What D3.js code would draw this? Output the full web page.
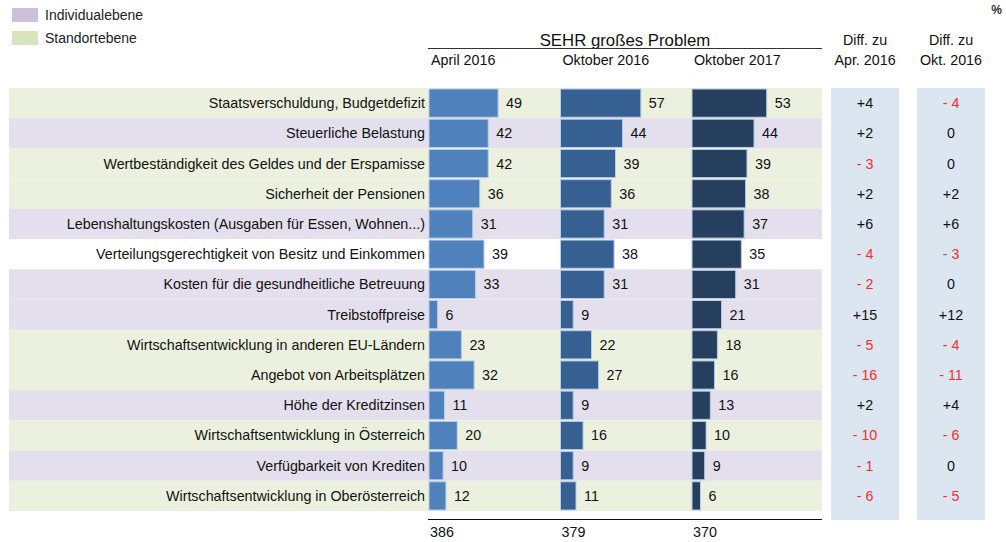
<!DOCTYPE html>
<html><head><meta charset="utf-8">
<script src="https://cdn.jsdelivr.net/npm/d3@7/dist/d3.min.js"></script>
<style>body{margin:0;background:#fff}svg{display:block;font-family:"Liberation Sans",Arial,sans-serif}</style>
</head><body><svg id="c" width="1006" height="542"></svg>
<script>
const categories = ["Staatsverschuldung, Budgetdefizit","Steuerliche Belastung","Wertbeständigkeit des Geldes und der Erspamisse","Sicherheit der Pensionen","Lebenshaltungskosten (Ausgaben für Essen, Wohnen...)","Verteilungsgerechtigkeit von Besitz und Einkommen","Kosten für die gesundheitliche Betreuung","Treibstoffpreise","Wirtschaftsentwicklung in anderen EU-Ländern","Angebot von Arbeitsplätzen","Höhe der Kreditzinsen","Wirtschaftsentwicklung in Österreich","Verfügbarkeit von Krediten","Wirtschaftsentwicklung in Oberösterreich"];
const rowType = ["S","I","S","S","I","","I","I","S","S","I","S","I","S"];
const seriesNames = ["April 2016","Oktober 2016","Oktober 2017"];
const april2016 = [49,42,42,36,31,39,33,6,23,32,11,20,10,12];
const oktober2016 = [57,44,39,36,31,38,31,9,22,27,9,16,9,11];
const oktober2017 = [53,44,39,38,37,35,31,21,18,16,13,10,9,6];
const diffApr = [4,2,-3,2,6,-4,-2,15,-5,-16,2,-10,-1,-6];
const diffOkt = [-4,0,0,2,6,-3,0,12,-4,-11,4,-6,0,-5];
const totals = [386,379,370];
const legendItems = [{key:"I",label:"Individualebene"},{key:"S",label:"Standortebene"}];

const series = [april2016, oktober2016, oktober2017];
const barColors = ["#4f81bd","#376092","#263f5f"];
const rowFill = {I:"#e4dfec", S:"#ebf1de", "":"#ffffff"};
const legendFill = {I:"#ccc0da", S:"#d8e4bc"};
const FS = 14.3;

const svg = d3.select("#c");
const y = d3.scaleBand().domain(categories).range([88, 511]).paddingInner(0);
const x = d3.scaleLinear().domain([0, 100]).range([0, 141]);
const colX = d3.scalePoint().domain(seriesNames).range([429, 692]);
const diffCols = [{x:831,w:68,vals:diffApr,h1:"Diff. zu",h2:"Apr. 2016"},{x:917,w:68,vals:diffOkt,h1:"Diff. zu",h2:"Okt. 2016"}];

// legend
const lg = svg.append("g");
legendItems.forEach((d,i)=>{
  lg.append("rect").attr("x",12).attr("y",8+i*23).attr("width",26).attr("height",14).attr("fill",legendFill[d.key]);
  lg.append("text").attr("x",45).attr("y",20+i*23).attr("font-size",14).attr("fill","#222").text(d.label);
});
svg.append("text").attr("x",1002).attr("y",14).attr("text-anchor","end").attr("font-size",12).attr("font-weight","bold").attr("fill","#333").text("%");

// row backgrounds
svg.append("g").selectAll("rect").data(categories).join("rect")
  .attr("x",9).attr("y",d=>y(d)).attr("width",813).attr("height",y.bandwidth())
  .attr("fill",(d,i)=>rowFill[rowType[i]]);

// diff backgrounds
diffCols.forEach(c=>{
  svg.append("rect").attr("x",c.x).attr("y",88).attr("width",c.w).attr("height",432).attr("fill","#dce6f1");
  svg.append("text").attr("x",c.x+c.w/2).attr("y",45).attr("text-anchor","middle").attr("font-size",FS).attr("fill","#111").text(c.h1);
  svg.append("text").attr("x",c.x+c.w/2).attr("y",65).attr("text-anchor","middle").attr("font-size",FS).attr("fill","#111").text(c.h2);
  svg.append("g").selectAll("text").data(c.vals).join("text")
    .attr("x",c.x+c.w/2).attr("y",(d,i)=>y(categories[i])+y.bandwidth()/2+5)
    .attr("text-anchor","middle").attr("font-size",FS)
    .attr("fill",d=>d<0?"#ff2a2a":"#111")
    .text(d=>d>0?"+"+d:(d<0?"- "+(-d):"0"));
});

// labels
svg.append("g").selectAll("text").data(categories).join("text")
  .attr("x",425).attr("y",d=>y(d)+y.bandwidth()/2+5).attr("text-anchor","end")
  .attr("font-size",FS).attr("fill","#111").text(d=>d);

// header
svg.append("text").attr("x",625).attr("y",46).attr("text-anchor","middle").attr("font-size",16.8).attr("fill","#111").text("SEHR großes Problem");
svg.append("line").attr("x1",428).attr("x2",822).attr("y1",48.5).attr("y2",48.5).attr("stroke","#333").attr("stroke-width",1.2);
svg.append("g").selectAll("text").data(seriesNames).join("text")
  .attr("x",d=>colX(d)+2).attr("y",65).attr("font-size",FS).attr("fill","#111").text(d=>d);

// bars
series.forEach((vals,si)=>{
  const x0 = colX(seriesNames[si]);
  const g = svg.append("g");
  g.selectAll("rect").data(vals).join("rect")
    .attr("x",x0).attr("y",(d,i)=>y(categories[i])+1)
    .attr("width",d=>x(d)).attr("height",y.bandwidth()-2)
    .attr("fill",barColors[si]).attr("stroke","#b9cde5").attr("stroke-width",1);
  g.selectAll("text").data(vals).join("text")
    .attr("x",d=>x0+x(d)+8).attr("y",(d,i)=>y(categories[i])+y.bandwidth()/2+5)
    .attr("font-size",FS).attr("fill","#111").text(d=>d);
});

// bottom line and totals
svg.append("line").attr("x1",428).attr("x2",822).attr("y1",519.5).attr("y2",519.5).attr("stroke","#111").attr("stroke-width",1.2);
svg.append("g").selectAll("text").data(totals).join("text")
  .attr("x",(d,i)=>colX(seriesNames[i])+1).attr("y",537).attr("font-size",FS).attr("fill","#111").text(d=>d);
</script></body></html>
